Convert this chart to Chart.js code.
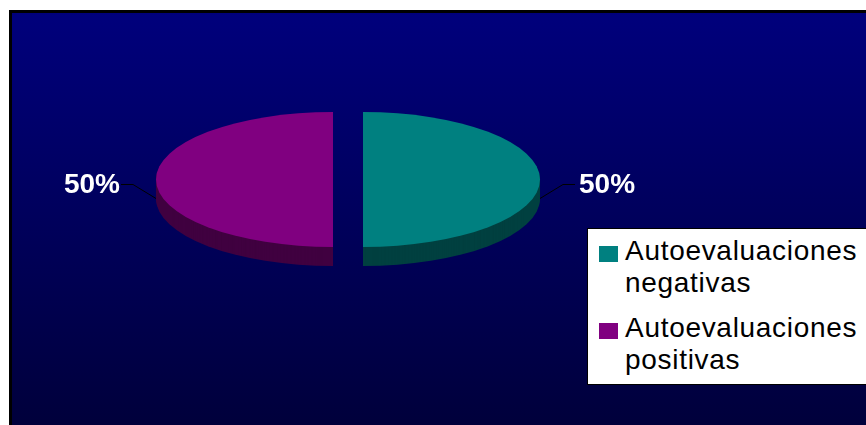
<!DOCTYPE html>
<html>
<head>
<meta charset="utf-8">
<script src="https://cdn.jsdelivr.net/npm/chart.js@4"></script>
<style>
  html, body { margin: 0; padding: 0; background: #fff; overflow: hidden; }
  body { width: 866px; height: 425px; position: relative; font-family: 'Liberation Sans', Arial, sans-serif; }
  #panel {
    position: absolute; left: 9px; top: 10px; width: 870px; height: 420px;
    border-left: 3px solid #000; border-top: 3px solid #000;
    background: linear-gradient(to bottom, #00007c 0%, #00003a 100%);
  }
  #pie { position: absolute; left: 0; top: 0; }
  #legend {
    position: absolute; left: 587px; top: 228px; width: 300px; height: 155px;
    background: #fff; border: 1px solid #000;
  }
  .item { position: absolute; left: 11px; }
  .item .box { position: absolute; left: 0; top: 11px; width: 19px; height: 16px; }
  .item .txt {
    position: absolute; left: 26px; width: 250px;
    font-size: 28px; line-height: 32px; letter-spacing: 0.7px; color: #000;
  }
</style>
</head>
<body>
<div id="panel"></div>
<canvas id="pie" width="866" height="425"></canvas>
<div id="legend"></div>

<script>
// chart data
const categories = ['Autoevaluaciones negativas', 'Autoevaluaciones positivas'];
const values = [50, 50];
const faceColors = ['#008080', '#800080'];
const sideColors = ['#004040', '#400040'];

const DEPTH = 19;           // thickness of the 3D side
const FLATTEN = 67.5 / 177; // vertical squash of the pie
const EXPLODE = 15;         // gap between slices, px from centre

// fakes a tilted, exploded 3D pie using the library's own arc elements
const pie3d = {
    id: 'pie3d',
    beforeDatasetDraw(chart, args) {
        const ctx = chart.ctx;
        const arcs = args.meta.data;
        const cy = arcs[0].y;
        const drawLayer = (dy, colors) => {
            arcs.forEach((arc, i) => {
                const mid = (arc.startAngle + arc.endAngle) / 2;
                ctx.save();
                ctx.translate(Math.cos(mid) * EXPLODE, cy + dy);
                ctx.scale(1, FLATTEN);
                ctx.translate(0, -cy);
                const el = Object.create(arc);
                el.options = Object.assign({}, arc.options, { backgroundColor: colors[i], borderWidth: 0 });
                el.draw(ctx);
                ctx.restore();
            });
        };
        for (let d = DEPTH; d >= 1; d--) drawLayer(d, sideColors);
        drawLayer(0, faceColors);
        return false;
    },
    afterDatasetsDraw(chart) {
        const ctx = chart.ctx;
        const arcs = chart.getDatasetMeta(0).data;
        const total = values.reduce((a, b) => a + b, 0);
        ctx.save();
        ctx.strokeStyle = '#000';
        ctx.lineWidth = 1;
        ctx.fillStyle = '#fff';
        ctx.font = "bold 28px 'Liberation Sans', Arial, sans-serif";
        ctx.textBaseline = 'middle';
        arcs.forEach((arc, i) => {
            const mid = (arc.startAngle + arc.endAngle) / 2;
            const dir = Math.cos(mid) >= 0 ? 1 : -1;
            const ex = arc.x + Math.cos(mid) * (arc.outerRadius + EXPLODE);
            const ey = arc.y + Math.sin(mid) * arc.outerRadius * FLATTEN + DEPTH;
            const bx = ex + dir * 23, by = ey - 14;
            const lx = bx + dir * 12;
            ctx.beginPath();
            ctx.moveTo(ex, ey);
            ctx.lineTo(bx, by);
            ctx.lineTo(lx, by);
            ctx.stroke();
            ctx.textAlign = dir > 0 ? 'left' : 'right';
            const pct = Math.round(values[i] / total * 100) + '%';
            ctx.fillText(pct, lx + (dir > 0 ? 4 : -1), by + 1);
        });
        ctx.restore();
    }
};

const chart = new Chart(document.getElementById('pie'), {
    type: 'pie',
    data: {
        labels: categories,
        datasets: [{
            data: values,
            backgroundColor: faceColors,
            borderWidth: 0,
            clip: false
        }]
    },
    options: {
        responsive: false,
        animation: false,
        events: [],
        radius: 177,
        layout: { padding: { left: 0, top: 0, right: 170, bottom: 66 } },
        plugins: {
            legend: { display: false },
            tooltip: { enabled: false }
        }
    },
    plugins: [pie3d]
});

// legend built from the chart's own data
const legend = document.getElementById('legend');
const tops = [6, 83];
categories.forEach((label, i) => {
    const item = document.createElement('div');
    item.className = 'item';
    item.style.top = tops[i] + 'px';
    const box = document.createElement('span');
    box.className = 'box';
    box.style.background = chart.data.datasets[0].backgroundColor[i];
    const txt = document.createElement('span');
    txt.className = 'txt';
    txt.textContent = label;
    item.appendChild(box);
    item.appendChild(txt);
    legend.appendChild(item);
});
</script>
</body>
</html>
